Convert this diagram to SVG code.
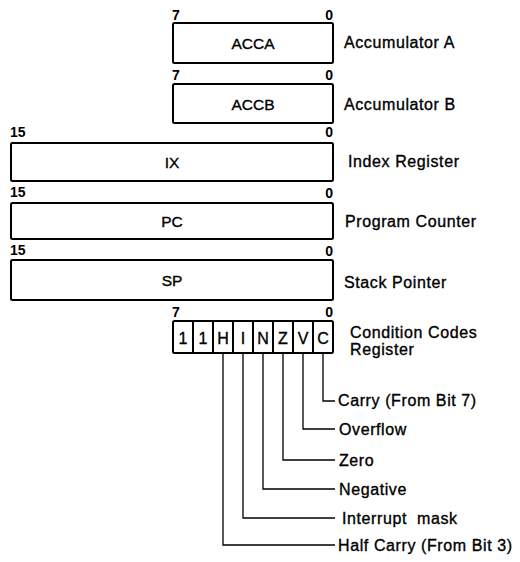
<svg xmlns="http://www.w3.org/2000/svg" width="520" height="562" viewBox="0 0 520 562">
<style>
text{font-family:"Liberation Sans",Arial,sans-serif;fill:#000;stroke:#000;stroke-width:0.35px}
.reg{fill:#fff;stroke:#000;stroke-width:2}
.cell{fill:none;stroke:#000;stroke-width:2}
.bit{font-size:14px;font-weight:bold;stroke-width:0}
.name{font-size:15.5px;text-anchor:middle}
.lab{font-size:16px;letter-spacing:0.6px}
.cc{font-size:16px;text-anchor:middle}
.end{text-anchor:end}
.conn{fill:none;stroke:#000;stroke-width:1.3}
</style>
<rect width="520" height="562" fill="#fff"/>
<g id="acca">
<text class="bit" x="172" y="20">7</text>
<text class="bit end" x="333" y="20">0</text>
<rect class="reg" x="173" y="23" width="160" height="40" rx="1.5"/>
<text class="name" x="253" y="49">ACCA</text>
<text class="lab" x="344" y="48">Accumulator A</text>
</g>
<g id="accb">
<text class="bit" x="172" y="80">7</text>
<text class="bit end" x="333" y="80">0</text>
<rect class="reg" x="173" y="84" width="160" height="39" rx="1.5"/>
<text class="name" x="253" y="110">ACCB</text>
<text class="lab" x="344" y="110">Accumulator B</text>
</g>
<g id="ix">
<text class="bit" x="10" y="137">15</text>
<text class="bit end" x="333" y="137">0</text>
<rect class="reg" x="11" y="143" width="322" height="38" rx="1.5"/>
<text class="name" x="172" y="168">IX</text>
<text class="lab" x="348" y="167">Index Register</text>
</g>
<g id="pc">
<text class="bit" x="10" y="197">15</text>
<text class="bit end" x="333" y="198">0</text>
<rect class="reg" x="11" y="203" width="322" height="36" rx="1.5"/>
<text class="name" x="172" y="227">PC</text>
<text class="lab" x="345" y="227">Program Counter</text>
</g>
<g id="sp">
<text class="bit" x="10" y="255">15</text>
<text class="bit end" x="333" y="256">0</text>
<rect class="reg" x="11" y="260" width="322" height="40" rx="1.5"/>
<text class="name" x="172" y="286">SP</text>
<text class="lab" x="344" y="288">Stack Pointer</text>
</g>
<g id="ccr">
<text class="bit" x="172" y="317">7</text>
<text class="bit end" x="333" y="317">0</text>
<rect class="reg" x="173" y="321" width="160" height="32" rx="1.5"/>
<path class="cell" d="M193 321V353M213 321V353M233 321V353M253 321V353M273 321V353M293 321V353M313 321V353"/>
<text class="cc" x="183" y="344">1</text>
<text class="cc" x="203" y="344">1</text>
<text class="cc" x="223" y="344">H</text>
<text class="cc" x="243" y="344">I</text>
<text class="cc" x="263" y="344">N</text>
<text class="cc" x="283" y="344">Z</text>
<text class="cc" x="303" y="344">V</text>
<text class="cc" x="323" y="344">C</text>
<text class="lab" x="350" y="338">Condition Codes</text>
<text class="lab" x="350" y="355">Register</text>
</g>
<g id="connectors">
<path class="conn" d="M323 353V401H335"/>
<path class="conn" d="M303 353V429H335"/>
<path class="conn" d="M283 353V460H335"/>
<path class="conn" d="M263 353V489H335"/>
<path class="conn" d="M243 353V518H335"/>
<path class="conn" d="M223 353V545H335"/>
</g>
<g id="flag-labels">
<text class="lab" x="338" y="406">Carry (From Bit 7)</text>
<text class="lab" x="339" y="435">Overflow</text>
<text class="lab" x="339" y="466">Zero</text>
<text class="lab" x="339" y="495">Negative</text>
<text class="lab" x="342" y="524" xml:space="preserve">Interrupt  mask</text>
<text class="lab" x="338" y="551">Half Carry (From Bit 3)</text>
</g>
</svg>
